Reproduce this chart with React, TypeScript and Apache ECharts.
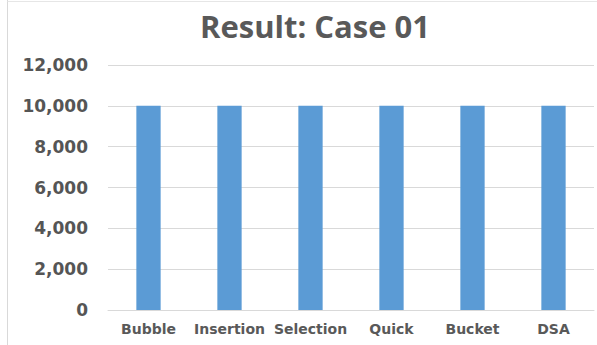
import React, { useEffect, useRef } from "react";
import * as echarts from "echarts";

const categories = ["Bubble", "Insertion", "Selection", "Quick", "Bucket", "DSA"];
const values = [10000, 10000, 10000, 10000, 10000, 10000];
const titleText = "Result: Case 01";

export default function App() {
  const ref = useRef<HTMLDivElement>(null);
  useEffect(() => {
    if (!ref.current) return;
    const chart = echarts.init(ref.current, null, { renderer: "svg" });
    chart.setOption({
      animation: false,
      backgroundColor: "#ffffff",
      title: {
        text: titleText,
        left: 310,
        textAlign: "center",
        top: 5,
        textStyle: { fontFamily: "Open Sans", fontSize: 31, fontWeight: "bold", color: "#595959" },
      },
      graphic: [
        {
          type: "line",
          shape: { x1: 7.5, y1: 0, x2: 7.5, y2: 345 },
          style: { stroke: "#d9d9d9", lineWidth: 1 },
          silent: true,
        },
        {
          type: "line",
          shape: { x1: 7.5, y1: 1.5, x2: 597, y2: 1.5 },
          style: { stroke: "#e6e6e6", lineWidth: 1 },
          silent: true,
        },
      ],
      grid: { left: 108, right: 3, top: 65, bottom: 35, containLabel: false },
      xAxis: {
        type: "category",
        data: categories,
        axisLine: { show: true, lineStyle: { color: "#d9d9d9", width: 1 } },
        axisTick: { show: false },
        axisLabel: {
          margin: 12,
          fontFamily: "DejaVu Sans",
          fontWeight: "bold",
          fontSize: 14,
          color: "#595959",
          interval: 0,
        },
      },
      yAxis: {
        type: "value",
        min: 0,
        max: 12000,
        interval: 2000,
        axisLine: { show: false },
        axisTick: { show: false },
        splitLine: { lineStyle: { color: "#d9d9d9", width: 1 } },
        axisLabel: {
          margin: 20,
          fontFamily: "DejaVu Sans",
          fontWeight: "bold",
          fontSize: 17,
          color: "#555555",
          formatter: (v: number) => v.toLocaleString("en-US"),
        },
      },
      series: [
        {
          type: "bar",
          data: values,
          barWidth: "30%",
          itemStyle: { color: "#5b9bd5" },
        },
      ],
    });
    return () => chart.dispose();
  }, []);
  return (
    <div
      ref={ref}
      style={{ position: "fixed", left: 0, top: 0, width: 597, height: 345 }}
    />
  );
}
